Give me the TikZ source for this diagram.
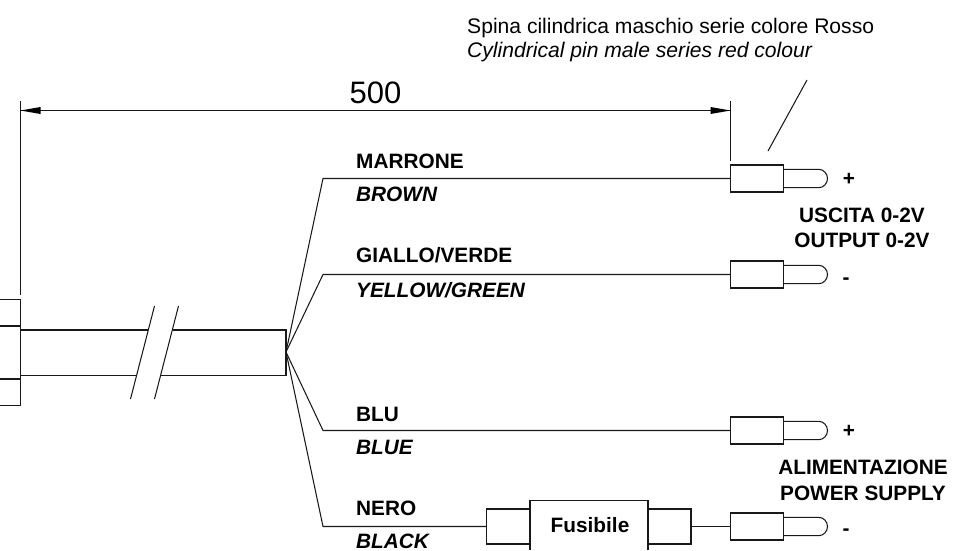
\documentclass[tikz,border=0pt]{standalone}
\usepackage{fontspec}
\setmainfont{Liberation Sans}
\begin{document}
\begin{tikzpicture}[x=1pt,y=-1pt,
  line/.style={draw=black!90,line width=1.05pt},
  body/.style={line,rectangle,minimum width=53pt,minimum height=27pt,inner sep=0pt,outer sep=0pt},
  fusebox/.style={line,rectangle,inner sep=0pt,outer sep=0pt},
  lab/.style={font=\fontsize{20.8}{20.8}\selectfont\bfseries,anchor=base west,inner sep=0pt},
  ilab/.style={font=\fontsize{20.8}{20.8}\selectfont\bfseries\itshape,anchor=base west,inner sep=0pt},
  sign/.style={font=\fontsize{20.8}{20.8}\selectfont\bfseries,anchor=base,inner sep=0pt},
  capt/.style={font=\fontsize{20.8}{25.5}\selectfont\bfseries,align=center,inner sep=0pt,anchor=base},
  note/.style={font=\fontsize{21.1}{21.1}\selectfont,anchor=base west,inner sep=0pt},
  pin/.pic={\draw[line] (0,-9.2) -- (35,-9.2) arc[start angle=90,end angle=-90,x radius=9,y radius=-9.2] -- (0,9.2);}
]
\useasboundingbox (0,0) rectangle (971,550);
% connector at cable end
\node[fusebox,anchor=north east,minimum width=21pt,minimum height=26.5pt] (c1) at (20.5,299.5) {};
\node[fusebox,anchor=north east,minimum width=21pt,minimum height=53pt] (c2) at (20.5,326) {};
\node[fusebox,anchor=north east,minimum width=21pt,minimum height=26.5pt] (c3) at (20.5,379) {};
% cable
\coordinate (fan) at (286,352);
\coordinate (ctl) at (20.5,330);
\coordinate (cbl) at (20.5,375.5);
\coordinate (ctr) at (286,330);
\coordinate (cbr) at (286,375.5);
\coordinate (b1t) at (148,330);
\coordinate (b2t) at (173,330);
\coordinate (b1b) at (137,375.5);
\coordinate (b2b) at (161,375.5);
\draw[line] (ctl) -- (b1t);
\draw[line] (b2t) -- (ctr) -- (cbr) -- (b2b);
\draw[line] (b1b) -- (cbl);
\coordinate (s1a) at (154.5,306); \coordinate (s1b) at (130.5,399);
\coordinate (s2a) at (178.5,306); \coordinate (s2b) at (154.5,399);
\draw[line] (s1a) -- (s1b);
\draw[line] (s2a) -- (s2b);
% plugs
\node[body,anchor=west] (p1) at (730.5,178.5) {};
\node[body,anchor=west] (p2) at (730.5,274.5) {};
\node[body,anchor=west] (p3) at (730.5,430.5) {};
\node[body,anchor=west] (p4) at (730.5,526.5) {};
\pic at (p1.east) {pin};
\pic at (p2.east) {pin};
\pic at (p3.east) {pin};
\pic at (p4.east) {pin};
% fuse
\node[fusebox,minimum width=43.5pt,minimum height=35pt,anchor=west] (f1) at (486.5,526.5) {};
\node[fusebox,minimum width=43pt,minimum height=35pt,anchor=west] (f3) at (648,526.5) {};
\draw[line] (530,550) -- (530,500.5) -- (648,500.5) -- (648,550);
\node[font=\fontsize{20.8}{20.8}\selectfont\bfseries,inner sep=0pt,anchor=base] (fuse) at (590,532) {Fusibile};
% wires
\coordinate (k1) at (323,178.5);
\coordinate (k2) at (323,274.5);
\coordinate (k3) at (323,430.5);
\coordinate (k4) at (323,526.5);
\draw[line] (fan) -- (k1) -- (p1.west);
\draw[line] (fan) -- (k2) -- (p2.west);
\draw[line] (fan) -- (k3) -- (p3.west);
\draw[line] (fan) -- (k4) -- (f1.west);
\draw[line] (f3.east) -- (p4.west);
% dimension
\coordinate (e1a) at (20.5,101);
\coordinate (e1b) at (20.5,295);
\coordinate (e2a) at (730.5,101);
\coordinate (e2b) at (730.5,161);
\coordinate (d1) at (20.5,110.5);
\coordinate (d2) at (730.5,110.5);
\draw[line] (e1a) -- (e1b);
\draw[line] (e2a) -- (e2b);
\draw[line] (d1) -- (d2);
\fill[black] (d1) -- ++(20,-3.5) -- ++(0,7) -- cycle;
\fill[black] (d2) -- ++(-20,-3.5) -- ++(0,7) -- cycle;
\node[font=\fontsize{31}{31}\selectfont,anchor=base,inner sep=0pt] (dim) at (375.5,103.5) {500};
% leader
\coordinate (l1) at (807,80);
\coordinate (l2) at (768,151);
\draw[line] (l1) -- (l2);
% notes
\node[note] (n1) at (467,33) {Spina cilindrica maschio serie colore Rosso};
\node[note,font=\fontsize{21.1}{21.1}\selectfont\itshape] (n2) at (467,57) {Cylindrical pin male series red colour};
% labels
\node[lab] (t1) at (356,168) {MARRONE};
\node[ilab] (t2) at (356,201) {BROWN};
\node[lab] (t3) at (356,262) {GIALLO/VERDE};
\node[ilab] (t4) at (356,297) {YELLOW/GREEN};
\node[lab] (t5) at (356,421) {BLU};
\node[ilab] (t6) at (356,454) {BLUE};
\node[lab] (t7) at (356,515) {NERO};
\node[ilab] (t8) at (356,548) {BLACK};
\node[sign] (s1) at (849,185) {+};
\node[sign] (s2) at (846,284) {-};
\node[sign] (s3) at (849,437) {+};
\node[sign] (s4) at (846,535) {-};
\node[capt] (u) at (862,247.5) {USCITA 0-2V\\OUTPUT 0-2V};
\node[capt] (a) at (863,500) {ALIMENTAZIONE\\POWER SUPPLY};
\end{tikzpicture}
\end{document}
